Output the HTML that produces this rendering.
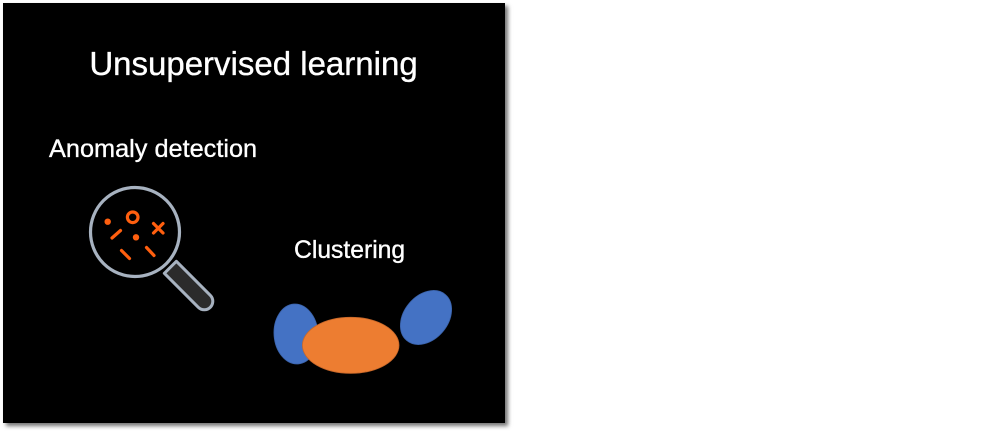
<!DOCTYPE html>
<html>
<head>
<meta charset="utf-8">
<style>
  html, body { margin: 0; padding: 0; background: #ffffff; }
  body { width: 987px; height: 431px; position: relative; overflow: hidden; }
  .slide {
    position: absolute; left: 3px; top: 3px; width: 502px; height: 420px;
    background: #000000;
    box-shadow: 3px 3px 4px rgba(0,0,0,0.55);
  }
  svg { position: absolute; left: 0; top: 0; }
  text { font-family: "Liberation Sans", Arial, sans-serif; fill: #ffffff; stroke: #ffffff; stroke-width: 0.35; }
</style>
</head>
<body>
<div class="slide"></div>
<svg width="987" height="431" viewBox="0 0 987 431" xmlns="http://www.w3.org/2000/svg">
  <text x="253.5" y="75" font-size="33" text-anchor="middle">Unsupervised learning</text>
  <text x="49" y="157" font-size="25.3">Anomaly detection</text>
  <text x="294" y="258" font-size="24.7">Clustering</text>

  <!-- magnifier handle -->
  <g transform="rotate(45 135 232)">
    <path d="M 185 223.5 L 233 223.5 A 8.5 8.5 0 0 1 233 240.5 L 185 240.5 Z" fill="#2b2b2b" stroke="#a7b2c0" stroke-width="3" stroke-linejoin="round"/>
  </g>
  <!-- magnifier lens -->
  <circle cx="135" cy="232" r="44.5" fill="#000000" stroke="#a7b2c0" stroke-width="3.2"/>

  <!-- orange marks -->
  <g stroke="#ff5f0f" stroke-width="3.2" stroke-linecap="round" fill="none">
    <circle cx="132.7" cy="217.3" r="5.3"/>
    <line x1="153.5" y1="223.5" x2="163" y2="233"/>
    <line x1="163" y1="223.5" x2="153.5" y2="233"/>
    <line x1="112" y1="238" x2="120.5" y2="230.5"/>
    <line x1="121.5" y1="250.5" x2="129.5" y2="258.5"/>
    <line x1="146.5" y1="247.5" x2="154" y2="255.5"/>
  </g>
  <circle cx="107.7" cy="221.7" r="3.2" fill="#ff5f0f"/>
  <circle cx="136" cy="237.3" r="3.2" fill="#ff5f0f"/>

  <!-- clusters -->
  <ellipse cx="296" cy="334" rx="22" ry="30" fill="#4472c4" stroke="#3b63ab" stroke-width="0.8" transform="rotate(-4 296 334)"/>
  <ellipse cx="426" cy="317.5" rx="30" ry="22" fill="#4472c4" stroke="#3b63ab" stroke-width="0.8" transform="rotate(-50 426 317.5)"/>
  <ellipse cx="350.7" cy="345.3" rx="48.3" ry="28" fill="#ed7d31" stroke="#c8682a" stroke-width="0.8"/>
</svg>
</body>
</html>
